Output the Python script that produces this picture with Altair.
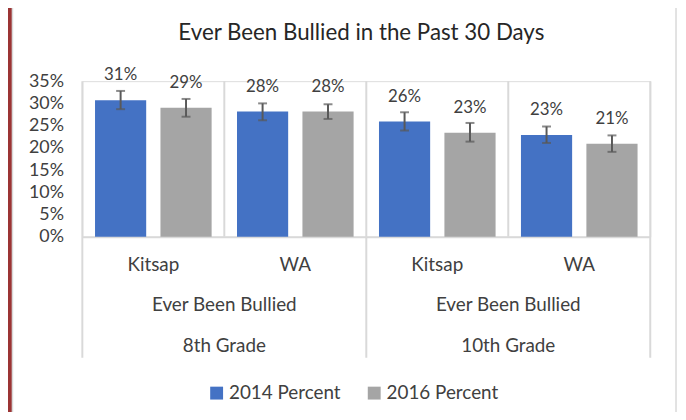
import altair as alt
import pandas as pd

# ---- data ----
grades = ["8th Grade", "8th Grade", "10th Grade", "10th Grade"]
regions = ["Kitsap", "WA", "Kitsap", "WA"]
measure = "Ever Been Bullied"
series = ["2014 Percent", "2016 Percent"]
pct_2014 = [0.307, 0.282, 0.259, 0.229]
lo_2014 = [0.287, 0.262, 0.239, 0.211]
hi_2014 = [0.328, 0.300, 0.280, 0.248]
pct_2016 = [0.290, 0.282, 0.234, 0.209]
lo_2016 = [0.270, 0.265, 0.214, 0.191]
hi_2016 = [0.310, 0.298, 0.256, 0.228]
y_ticks = [0, 0.05, 0.10, 0.15, 0.20, 0.25, 0.30, 0.35]
title_text = "Ever Been Bullied in the Past 30 Days"

cats = [f"{g}|{r}" for g, r in zip(grades, regions)]
rows = []
for i, c in enumerate(cats):
    rows.append(dict(cat=c, grade=grades[i], region=regions[i], series=series[0],
                     pct=pct_2014[i], lo=lo_2014[i], hi=hi_2014[i]))
    rows.append(dict(cat=c, grade=grades[i], region=regions[i], series=series[1],
                     pct=pct_2016[i], lo=lo_2016[i], hi=hi_2016[i]))
df = pd.DataFrame(rows)
cat_df = pd.DataFrame({"cat": cats, "grade": grades, "region": regions, "measure": [measure] * 4})

W, H = 573, 157
FONT = "Lato"
TXT = "#404040"
GRID = "#D9D9D9"
ERR = "#595959"
CAT_FS = 19


def xenc(band=None):
    kw = {}
    if band is not None:
        kw["bandPosition"] = band
    return alt.X(
        "cat:N",
        scale=alt.Scale(domain=cats, paddingInner=0, paddingOuter=0),
        axis=alt.Axis(title=None, labelExpr="split(datum.label, '|')[1]", ticks=False,
                      domain=True, domainColor=GRID, domainWidth=2, labelAngle=0,
                      labelPadding=19, labelFontSize=CAT_FS, labelColor=TXT, labelFont=FONT,
                      grid=False),
        **kw,
    )


def yenc(field):
    return alt.Y(
        f"{field}:Q",
        scale=alt.Scale(domain=[0, 0.35], nice=False),
        axis=alt.Axis(values=y_ticks, format=".0%", title=None, grid=False, ticks=False, domain=False,
                      labelPadding=19, labelFontSize=18, labelColor=TXT, labelFont=FONT,
                      labelOverlap=False, labelFlush=False),
    )


xo = alt.XOffset("series:N", scale=alt.Scale(domain=series, paddingInner=0.218, paddingOuter=0.194))

color = alt.Color(
    "series:N",
    scale=alt.Scale(domain=series, range=["#4472C4", "#A5A5A5"]),
    legend=alt.Legend(title=None, orient="none", legendX=126, legendY=305, direction="horizontal",
                      symbolType="square", symbolSize=169, symbolStrokeWidth=0, labelFontSize=19,
                      labelFont=FONT, labelColor=TXT, labelOffset=3, columnPadding=24, padding=0),
)

base = alt.Chart(df)
bars = base.mark_bar().encode(x=xenc(), xOffset=xo, y=yenc("pct"), color=color)
err = base.mark_rule(color=ERR, strokeWidth=2).encode(
    x=xenc(), xOffset=xo, y=yenc("lo"), y2="hi:Q")
cap_lo = base.mark_tick(color=ERR, thickness=2, size=9, orient="horizontal").encode(
    x=xenc(), xOffset=xo, y=yenc("lo"))
cap_hi = base.mark_tick(color=ERR, thickness=2, size=9, orient="horizontal").encode(
    x=xenc(), xOffset=xo, y=yenc("hi"))
labels = base.mark_text(dy=-25, fontSize=17, font=FONT, color=TXT).encode(
    x=xenc(), xOffset=xo, y=yenc("pct"), text=alt.Text("pct:Q", format=".0%"))

cb = alt.Chart(cat_df)
short_rules = cb.transform_filter("datum.region == 'WA'").mark_rule(color=GRID, strokeWidth=2).encode(
    x=xenc(0), y=alt.value(0), y2=alt.value(H))
long_rules = cb.transform_filter("datum.region == 'Kitsap'").mark_rule(color=GRID, strokeWidth=2).encode(
    x=xenc(0), y=alt.value(0), y2=alt.value(H + 122))
end_rule = cb.transform_filter(f"datum.cat == '{cats[-1]}'").mark_rule(color=GRID, strokeWidth=2).encode(
    x=xenc(1), y=alt.value(0), y2=alt.value(H + 122))

grp = cb.transform_filter("datum.region == 'Kitsap'")
measure_txt = grp.mark_text(fontSize=CAT_FS, font=FONT, color=TXT, baseline="middle").encode(
    x=xenc(1), y=alt.value(H + 69), text="measure:N")
grade_txt = grp.mark_text(fontSize=CAT_FS, font=FONT, color=TXT, baseline="middle").encode(
    x=xenc(1), y=alt.value(H + 110), text="grade:N")

one = alt.Chart(pd.DataFrame({"title": [title_text]}))
title = one.mark_text(fontSize=22.5, font=FONT, color="#262626", baseline="middle", align="center").encode(
    x=alt.value(W / 2 - 5), y=alt.value(-49), text="title:N")
frame_l = one.mark_rule(color=GRID, strokeWidth=1.5).encode(x=alt.value(-70.5), y=alt.value(-80), y2=alt.value(H + 200))
frame_r = one.mark_rule(color=GRID, strokeWidth=1.5).encode(x=alt.value(599), y=alt.value(-80), y2=alt.value(H + 200))
maroon = one.mark_rule(color="#9B3434", strokeWidth=4).encode(x=alt.value(-73), y=alt.value(-80), y2=alt.value(H + 200))

chart = alt.layer(
    maroon, frame_l, frame_r, short_rules, long_rules, end_rule,
    bars, err, cap_lo, cap_hi, labels, measure_txt, grade_txt, title,
).properties(
    width=W, height=H,
    autosize=alt.AutoSizeParams(type="none"),
    padding={"left": 75, "top": 72, "right": 28, "bottom": 175},
).configure_view(stroke=None).configure(background="white")

chart.save("out.html", embed_options={"renderer": "svg", "actions": False})
